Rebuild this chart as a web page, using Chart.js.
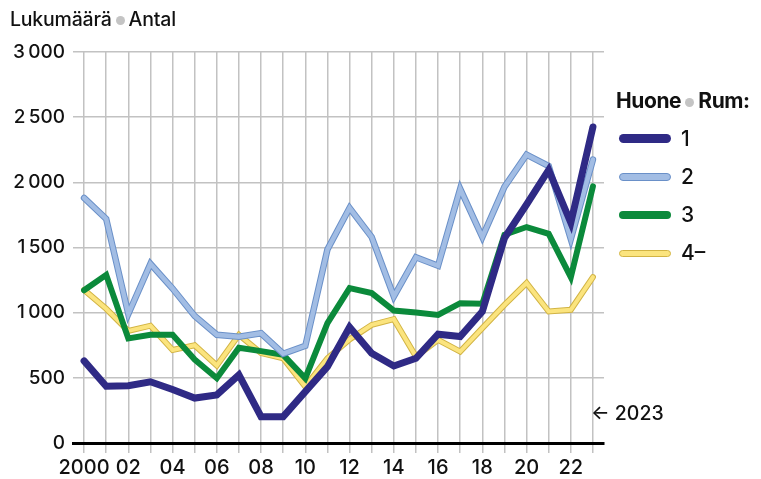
<!DOCTYPE html>
<html>
<head>
<meta charset="utf-8">
<script src="https://cdn.jsdelivr.net/npm/chart.js@4.4.1/dist/chart.umd.min.js"></script>
<style>
    html, body { margin: 0; padding: 0; background: #fff; }
    #wrap { position: relative; width: 761px; height: 479px; font-family: Inter, 'Liberation Sans', sans-serif; color: #111; }
    #chart { position: absolute; left: 0; top: 0; }
    .dot { display: inline-block; width: 9px; height: 9px; border-radius: 50%; background: #c4c4c4; margin: 0 4px; vertical-align: 1px; }
    #title { position: absolute; left: 10px; top: 7px; font-size: 19.5px; font-weight: 500; white-space: nowrap; letter-spacing: -0.2px; }
    #legendTitle { position: absolute; left: 616px; top: 88px; font-size: 21px; font-weight: 700; white-space: nowrap; letter-spacing: -0.4px; }
    .item { position: absolute; left: 619px; height: 24px; width: 140px; }
    .swatch { position: absolute; left: 0; width: 52px; border-radius: 5px; box-sizing: border-box; }
    .item span { position: absolute; left: 62px; top: 0; font-size: 21px; font-weight: 500; line-height: 24px; }
    #note { position: absolute; left: 591px; top: 401px; font-size: 19.5px; font-weight: 500; white-space: nowrap; }
</style>
</head>
<body>
<div id="wrap">
    <canvas id="chart" width="761" height="479"></canvas>
    <div id="title">Lukumäärä<span class="dot"></span>Antal</div>
    <div id="legendTitle">Huone<span class="dot"></span>Rum:</div>
    <div id="legend"></div>
    <div id="note">← 2023</div>
</div>
<script>
// Years 2000-2023
const years = ['2000', '2001', '2002', '2003', '2004', '2005', '2006', '2007', '2008', '2009', '2010', '2011',
    '2012', '2013', '2014', '2015', '2016', '2017', '2018', '2019', '2020', '2021', '2022', '2023'];
const xTickLabels = ['2000', '02', '04', '06', '08', '10', '12', '14', '16', '18', '20', '22'];
const yTickLabels = ['0', '500', '1\u2009000', '1\u2009500', '2\u2009000', '2\u2009500', '3\u2009000'];

// Number of sales by room count
const rooms1 = [630, 435, 440, 470, 410, 345, 369, 522, 202, 202, 394, 586, 889, 689, 591, 650, 835, 817, 1009, 1572, 1830, 2095, 1690, 2425];
const rooms2 = [1880, 1720, 990, 1375, 1185, 975, 830, 815, 842, 685, 745, 1485, 1803, 1580, 1124, 1425, 1360, 1950, 1580, 1965, 2212, 2125, 1565, 2175];
const rooms3 = [1172, 1290, 802, 830, 830, 640, 497, 730, 705, 676, 497, 919, 1188, 1150, 1016, 1001, 983, 1073, 1068, 1598, 1657, 1605, 1272, 1969];
const rooms4 = [1175, 1030, 860, 900, 714, 750, 595, 830, 690, 650, 432, 650, 795, 906, 950, 663, 791, 701, 881, 1060, 1227, 1009, 1022, 1273];

const seriesLabels = ['1', '2', '3', '4–'];

const series = [
    { label: seriesLabels[0], data: rooms1, color: '#2f2a85', width: 7 },
    { label: seriesLabels[1], data: rooms2, color: '#a2bde4', edge: '#6a90c8', width: 6.5 },
    { label: seriesLabels[2], data: rooms3, color: '#0b8a3b', width: 6 },
    { label: seriesLabels[3], data: rooms4, color: '#fbe47e', edge: '#d2b444', width: 6 }
];

// inner line first so it sits on top of its own outline
const datasets = [];
series.forEach(s => {
    const base = { data: s.data, pointRadius: 0, tension: 0, borderJoinStyle: 'miter', borderCapStyle: 'round' };
    if (s.edge) {
        datasets.push({ ...base, label: s.label, borderColor: s.color, borderWidth: s.width - 2 });
        datasets.push({ ...base, label: s.label + ' edge', borderColor: s.edge, borderWidth: s.width });
    } else {
        datasets.push({ ...base, label: s.label, borderColor: s.color, borderWidth: s.width });
    }
});

// HTML legend
const legendEl = document.getElementById('legend');
series.forEach((s, i) => {
    const item = document.createElement('div');
    item.className = 'item';
    item.style.top = (126.5 + i * 38.3) + 'px';
    const sw = document.createElement('div');
    sw.className = 'swatch';
    const h = s.width + 1.5;
    sw.style.height = h + 'px';
    sw.style.top = (12 - h / 2) + 'px';
    sw.style.background = s.color;
    if (s.edge) sw.style.border = '1px solid ' + s.edge;
    item.appendChild(sw);
    const txt = document.createElement('span');
    txt.textContent = s.label;
    item.appendChild(txt);
    legendEl.appendChild(item);
});

const gridColor = '#c2c2c2';

new Chart(document.getElementById('chart').getContext('2d'), {
    type: 'line',
    data: { labels: years, datasets: datasets },
    options: {
        responsive: false,
        animation: false,
        layout: { padding: { top: 52, right: 157, bottom: 0, left: 0 } },
        plugins: { legend: { display: false }, tooltip: { enabled: false } },
        scales: {
            x: {
                offset: true,
                grid: { offset: false, color: gridColor, lineWidth: 1.5, tickLength: 10, tickColor: gridColor },
                border: { display: true, color: '#000', width: 3 },
                ticks: {
                    autoSkip: false,
                    maxRotation: 0,
                    padding: 3,
                    color: '#111',
                    font: { family: 'Inter', size: 20, weight: '500' },
                    callback: (val, index) => index % 2 === 0 ? xTickLabels[index / 2] : ''
                },
                afterFit: scale => { scale.height = 36; }
            },
            y: {
                min: 0,
                max: 3000,
                grid: { color: gridColor, lineWidth: 1.5, drawTicks: false },
                border: { display: false },
                ticks: {
                    stepSize: 500,
                    padding: 8,
                    color: '#111',
                    font: { family: 'Inter', size: 19, weight: '500' },
                    callback: value => yTickLabels[value / 500]
                },
                afterFit: scale => { scale.width = 73; }
            }
        }
    }
});
</script>
</body>
</html>
